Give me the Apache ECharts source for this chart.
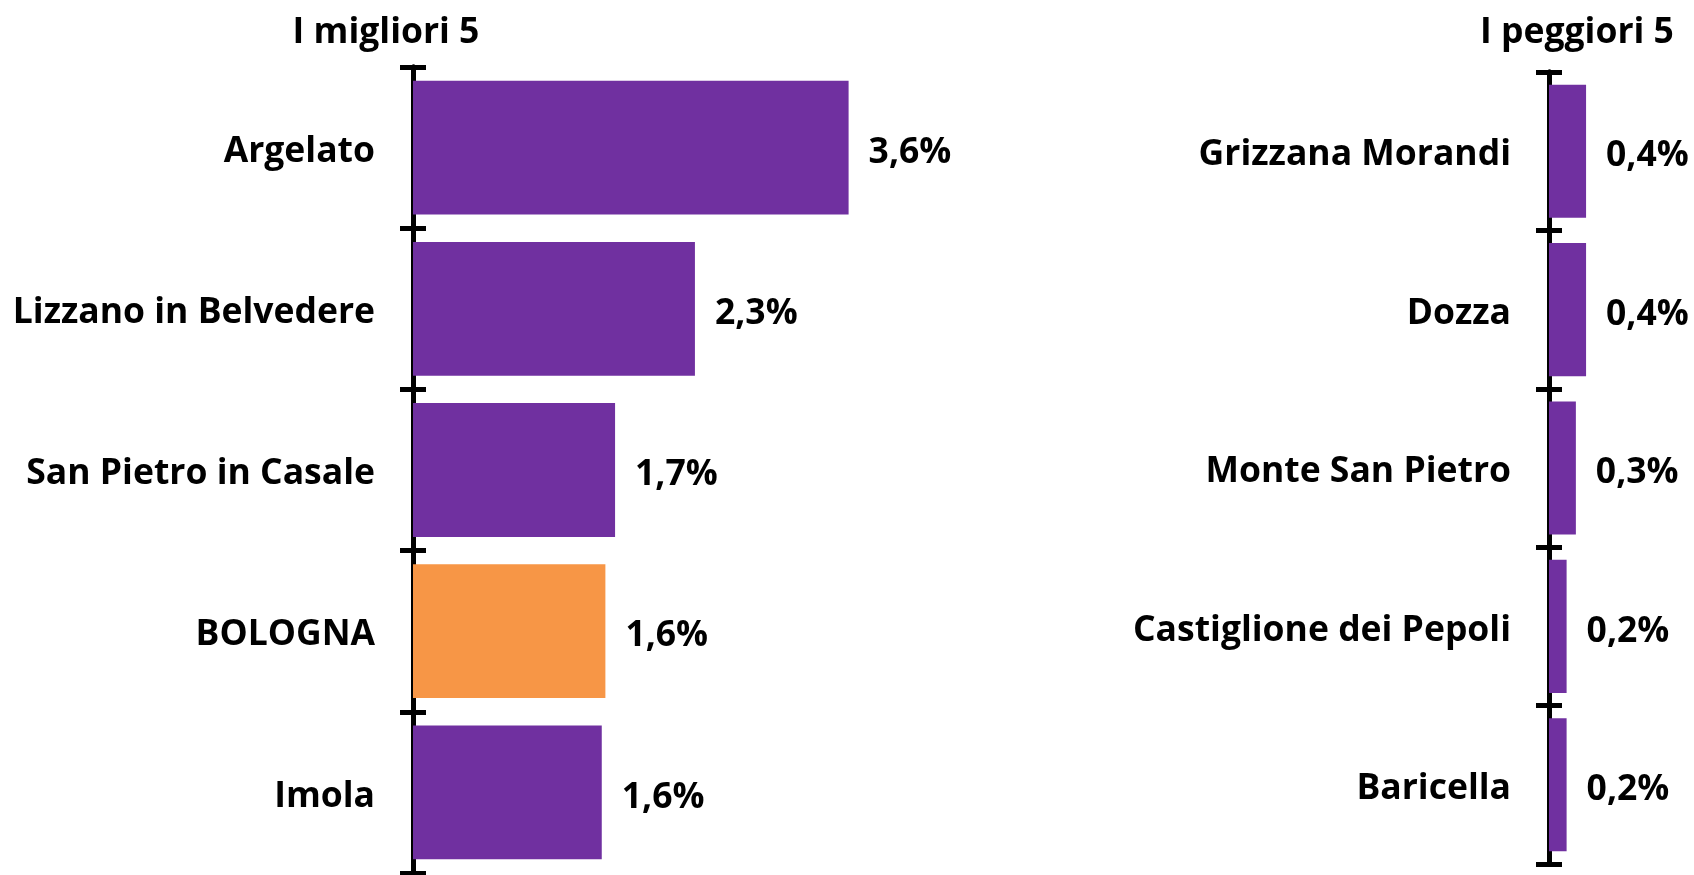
<!DOCTYPE html>
<html>
<head>
<meta charset="utf-8">
<script src="https://cdn.jsdelivr.net/npm/echarts@6/dist/echarts.min.js"></script>
<style>
html,body{margin:0;padding:0;background:#fff;}
#chart{width:1694px;height:875px;}
</style>
</head>
<body>
<div id="chart"></div>
<script>
// Data
const bestTitle = 'I migliori 5';
const worstTitle = 'I peggiori 5';
const bestCategories = ['Argelato', 'Lizzano in Belvedere', 'San Pietro in Casale', 'BOLOGNA', 'Imola'];
const bestValues = [3.6, 2.33, 1.67, 1.59, 1.56];
const worstCategories = ['Grizzana Morandi', 'Dozza', 'Monte San Pietro', 'Castiglione dei Pepoli', 'Baricella'];
const worstValues = [0.4, 0.4, 0.29, 0.19, 0.19];
const highlight = 'BOLOGNA';

const PURPLE = '#7030A0';
const ORANGE = '#F79646';
const FONT = '"Open Sans"';
const FS = 35.5;

const chart = echarts.init(document.getElementById('chart'), null, {renderer: 'canvas'});

function fmt(v) { return v.toFixed(1).replace('.', ',') + '%'; }

function yAxes(cats, gridIndex, showLabels, inside) {
  return {
    type: 'category',
    gridIndex: gridIndex,
    data: cats,
    inverse: true,
    position: 'left',
    offset: 0,
    axisLine: {show: true, lineStyle: {color: '#000', width: 5}},
    axisTick: {show: true, interval: 0, inside: inside, length: 13, lineStyle: {color: '#000', width: 5}},
    axisLabel: {show: showLabels, interval: 0, margin: 38, color: '#000', fontFamily: FONT, fontWeight: 'bold', fontSize: FS,
                formatter: v => '{a|' + v + '}',
                rich: {a: {color: '#000', fontFamily: FONT, fontWeight: 'bold', fontSize: FS, padding: [8, 0, 0, 0]}}},
    splitLine: {show: false}
  };
}

const valueLabel = {show: true, position: 'right', distance: 20, offset: [0, 5], formatter: p => fmt(p.value),
  color: '#000', fontFamily: FONT, fontWeight: 'bold', fontSize: FS};

const option = {
  animation: false,
  backgroundColor: '#fff',
  title: [
    {text: bestTitle, left: 381, top: 10, textAlign: 'center',
     textStyle: {fontFamily: FONT, fontWeight: 'bold', fontSize: FS, color: '#000'}},
    {text: worstTitle, left: 1572, top: 10, textAlign: 'center',
     textStyle: {fontFamily: FONT, fontWeight: 'bold', fontSize: FS, color: '#000'}}
  ],
  grid: [
    {left: 413, top: 67, width: 484, height: 806},
    {left: 1549, top: 72, width: 139, height: 792}
  ],
  xAxis: [
    {type: 'value', gridIndex: 0, min: 0, max: 4, show: false},
    {type: 'value', gridIndex: 1, min: 0, max: 1.5, show: false}
  ],
  yAxis: [
    yAxes(bestCategories, 0, true, false),
    yAxes(bestCategories, 0, false, true),
    yAxes(worstCategories, 1, true, false),
    yAxes(worstCategories, 1, false, true)
  ],
  series: [
    {
      type: 'bar', xAxisIndex: 0, yAxisIndex: 0,
      barCategoryGap: '17%',
      data: bestValues.map((v, i) => ({value: v, itemStyle: {color: bestCategories[i] === highlight ? ORANGE : PURPLE}})),
      label: valueLabel,
      z: 1
    },
    {
      type: 'bar', xAxisIndex: 1, yAxisIndex: 2,
      barCategoryGap: '16%',
      data: worstValues.map(v => ({value: v, itemStyle: {color: PURPLE}})),
      label: valueLabel,
      z: 1
    }
  ]
};
chart.setOption(option);
</script>
</body>
</html>
